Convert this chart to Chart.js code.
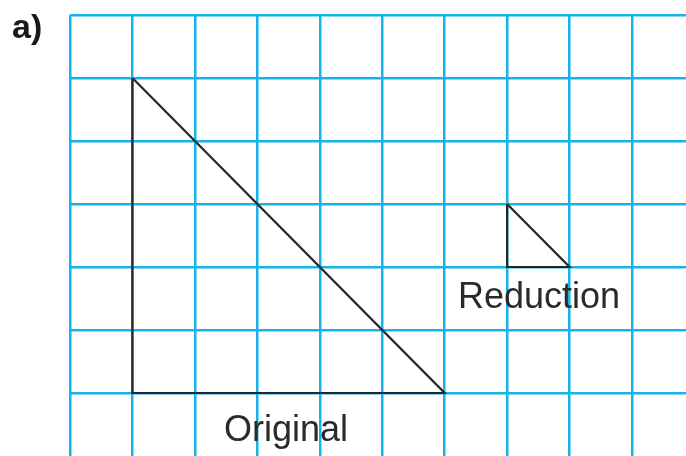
<!DOCTYPE html>
<html>
<head>
<meta charset="utf-8">
<script src="https://cdn.jsdelivr.net/npm/chart.js@4.4.0/dist/chart.umd.min.js"></script>
<style>
  html, body { margin: 0; padding: 0; background: #fff; }
  #c { display: block; }
</style>
</head>
<body>
<canvas id="c" width="686" height="456"></canvas>
<script>
// Grid tick positions (grid units)
const xTicks = [0, 1, 2, 3, 4, 5, 6, 7, 8, 9];
const yTicks = [1, 2, 3, 4, 5, 6, 7];

// Original triangle (closed)
const originalX = [1, 1, 6, 1];
const originalY = [6, 1, 1, 6];

// Reduction triangle (closed)
const reductionX = [7, 7, 8, 7];
const reductionY = [4, 3, 3, 4];

// Labels
const labelTexts = ['Original', 'Reduction'];
const panelLabel = 'a)';

const toPoints = (xs, ys) => xs.map((x, i) => ({ x: x, y: ys[i] }));

const textPlugin = {
  id: 'textPlugin',
  afterDraw(chart) {
    const ctx = chart.ctx;
    const xs = chart.scales.x, ys = chart.scales.y;
    ctx.save();
    ctx.fillStyle = '#2a2a2a';
    ctx.textBaseline = 'alphabetic';
    ctx.textAlign = 'center';
    ctx.font = '36px "Liberation Sans", Arial, sans-serif';
    ctx.fillText(labelTexts[0], xs.getPixelForValue(3.46), ys.getPixelForValue(0.24));
    ctx.fillText(labelTexts[1], xs.getPixelForValue(7.51), ys.getPixelForValue(2.35));
    ctx.textAlign = 'left';
    ctx.fillStyle = '#1a1a1a';
    ctx.font = 'bold 34px "Liberation Sans", Arial, sans-serif';
    ctx.fillText(panelLabel, 12, 38);
    ctx.restore();
  }
};

new Chart(document.getElementById('c'), {
  type: 'scatter',
  data: {
    datasets: [
      {
        data: toPoints(originalX, originalY),
        showLine: true,
        borderColor: '#262626',
        borderWidth: 2.2,
        pointRadius: 0,
        fill: false,
        tension: 0
      },
      {
        data: toPoints(reductionX, reductionY),
        showLine: true,
        borderColor: '#262626',
        borderWidth: 2.2,
        pointRadius: 0,
        fill: false,
        tension: 0
      }
    ]
  },
  options: {
    responsive: false,
    devicePixelRatio: 1,
    animation: false,
    layout: { padding: { left: 70, top: 15, right: 0, bottom: 0 } },
    plugins: { legend: { display: false }, tooltip: { enabled: false }, title: { display: false } },
    scales: {
      x: {
        type: 'linear',
        min: 0,
        max: 9.865,
        afterBuildTicks: (s) => { s.ticks = xTicks.map(v => ({ value: v })); },
        ticks: { display: false },
        border: { display: false },
        grid: { color: 'rgb(22,180,238)', lineWidth: 2.5, drawTicks: false }
      },
      y: {
        type: 'linear',
        min: 0,
        max: 7,
        afterBuildTicks: (s) => { s.ticks = yTicks.map(v => ({ value: v })); },
        ticks: { display: false },
        border: { display: false },
        grid: { color: 'rgb(22,180,238)', lineWidth: 2.5, drawTicks: false }
      }
    }
  },
  plugins: [textPlugin]
});
</script>
</body>
</html>
